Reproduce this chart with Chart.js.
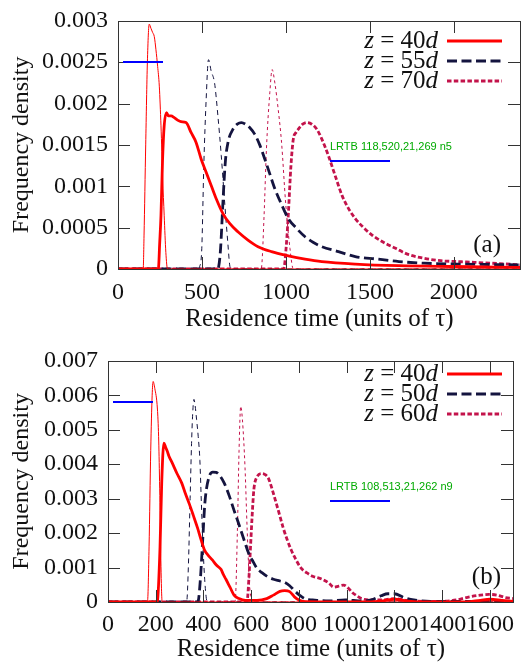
<!DOCTYPE html>
<html>
<head>
<meta charset="utf-8">
<script src="https://cdn.jsdelivr.net/npm/chart.js@4.4.1/dist/chart.umd.min.js"></script>
<style>
  html, body { margin: 0; padding: 0; background: #fff; overflow: hidden; }
  canvas { display: block; }
</style>
</head>
<body>
<canvas id="chartA" width="522" height="340"></canvas>
<canvas id="chartB" width="522" height="325"></canvas>
<script>
// --- panel (a): residence time [tau], frequency density ---
const xTicksA = [0, 500, 1000, 1500, 2000];
const yTicksA = [0, 0.0005, 0.001, 0.0015, 0.002, 0.0025, 0.003];

const aThin40 = [[0,0],[150,0],[155,0.0004],[165,0.0015],[175,0.0025],[186,0.00296],[196,0.00291],[206,0.00286],[216,0.00281],[226,0.00265],[236,0.00245],[246,0.00221],[256,0.00173],[266,0.0011],[275,0.00065],[285,0.0002],[295,0],[2400,0]];
const aThick40 = [[0,0],[236,0],[241,0.00001],[248,0.0003],[256,0.00065],[265,0.0013],[275,0.00173],[289,0.00189],[300,0.00185],[316,0.00185],[335,0.00183],[355,0.0018],[375,0.00178],[405,0.00177],[435,0.00165],[465,0.00153],[495,0.00133],[525,0.00117],[555,0.00101],[585,0.00085],[625,0.00067],[665,0.00055],[714,0.00045],[774,0.00035],[834,0.00027],[914,0.00021],[1014,0.00016],[1114,0.00012],[1214,0.00009],[1413,0.00006],[1673,0.00004],[2000,0.00003],[2400,0.00002]];
const aThin55 = [[0,0],[480,0],[485,0.00002],[499,0.00025],[511,0.00125],[525,0.00205],[539,0.00253],[555,0.00239],[575,0.00225],[595,0.00185],[615,0.00137],[635,0.00081],[655,0.00029],[665,0.00005],[675,0],[2400,0]];
const aThick55 = [[0,0],[594,0],[599,0.00002],[611,0.00025],[625,0.00081],[639,0.00129],[655,0.00153],[685,0.00169],[710,0.00175],[735,0.00177],[760,0.00175],[784,0.00171],[814,0.00163],[844,0.0015],[874,0.00133],[904,0.00115],[934,0.00097],[974,0.00078],[1014,0.00061],[1064,0.00049],[1114,0.00039],[1164,0.00032],[1214,0.00027],[1313,0.00021],[1413,0.00015],[1543,0.00012],[1673,0.00009],[1822,0.00007],[2022,0.00006],[2400,0.00005]];
const aThin70 = [[0,0],[850,0],[854,0.00001],[870,0.00065],[884,0.00145],[904,0.00213],[918,0.00241],[934,0.00225],[954,0.00193],[974,0.00153],[998,0.00081],[1024,0.00025],[1044,0],[2400,0]];
const aThick70 = [[0,0],[985,0],[990,0.00002],[1004,0.00033],[1014,0.00065],[1030,0.00125],[1044,0.00157],[1060,0.00165],[1074,0.00169],[1100,0.00175],[1124,0.00177],[1154,0.00175],[1184,0.00169],[1214,0.00157],[1253,0.00137],[1293,0.00113],[1334,0.00089],[1373,0.00073],[1413,0.00061],[1463,0.0005],[1513,0.00041],[1583,0.00032],[1653,0.00025],[1723,0.00018],[1823,0.00013],[1922,0.0001],[2022,0.00009],[2222,0.00007],[2400,0.00005]];

// --- panel (b) ---
const xTicksB = [0, 200, 400, 600, 800, 1000, 1200, 1400, 1600];
const yTicksB = [0, 0.001, 0.002, 0.003, 0.004, 0.005, 0.006, 0.007];

const bThin40 = [[0,0],[162,0],[166,0.00005],[172,0.0016],[179,0.0044],[185,0.006],[189,0.0064],[196,0.0062],[207,0.0056],[212,0.0048],[216,0.0035],[220,0.0018],[224,0.0004],[227,0],[1700,0]];
const bThick40 = [[0,0],[203,0],[207,0.00003],[218,0.0016],[225,0.00345],[234,0.00461],[241,0.0045],[248,0.00438],[255,0.00424],[268,0.00405],[289,0.00373],[309,0.00345],[323,0.00317],[341,0.00284],[357,0.00252],[375,0.00215],[391,0.00178],[405,0.0015],[419,0.00136],[437,0.00122],[453,0.00108],[474,0.00094],[483,0.0008],[494,0.00066],[511,0.00043],[528,0.0002],[549,0.0001],[576,0.00005],[624,0.00005],[665,0.0001],[693,0.0002],[720,0.00031],[740,0.00033],[761,0.0003],[781,0.00015],[802,0.00005],[830,0.00001],[1100,0],[1150,0.00003],[1200,0.00008],[1250,0.00003],[1300,0],[1500,0],[1560,0.00005],[1600,0.00008],[1650,0.00005],[1700,0.00002]];
const bThin50 = [[0,0],[326,0],[330,0.00003],[337,0.0011],[344,0.003],[350,0.0046],[355,0.0055],[360,0.00588],[365,0.0057],[371,0.0053],[378,0.0048],[385,0.0041],[391,0.0029],[398,0.0016],[405,0.00066],[412,0.0001],[416,0],[1700,0]];
const bThick50 = [[0,0],[374,0],[378,0.00003],[387,0.00066],[398,0.00196],[405,0.0028],[412,0.00326],[426,0.00368],[439,0.00377],[453,0.00376],[467,0.00368],[487,0.00345],[508,0.00308],[528,0.00266],[549,0.00224],[569,0.00182],[590,0.0014],[604,0.00122],[624,0.00098],[645,0.00085],[665,0.00075],[693,0.00066],[720,0.00061],[740,0.00057],[761,0.00047],[781,0.00033],[802,0.0002],[830,0.00008],[857,0.00006],[925,0.00003],[994,0.00006],[1062,0.00003],[1103,0.00006],[1144,0.00018],[1172,0.00024],[1199,0.00024],[1240,0.00013],[1281,0.00006],[1350,0.00002],[1700,0.00002]];
const bThin60 = [[0,0],[529,0],[533,0.00003],[542,0.00205],[549,0.0044],[556,0.00568],[563,0.0053],[574,0.0039],[583,0.0021],[593,0.0005],[602,0.00005],[606,0],[1700,0]];
const bThick60 = [[0,0],[579,0],[583,0.00003],[590,0.00066],[597,0.00159],[604,0.00252],[611,0.00326],[624,0.00363],[645,0.00373],[658,0.0037],[672,0.00359],[686,0.00331],[700,0.00298],[717,0.00257],[734,0.00215],[750,0.00182],[768,0.0015],[788,0.00122],[809,0.00098],[832,0.00085],[857,0.00075],[898,0.00066],[925,0.00055],[946,0.00043],[966,0.00046],[987,0.00049],[1007,0.0004],[1021,0.00029],[1042,0.00018],[1062,0.0001],[1103,0.00006],[1150,0.00006],[1200,0.0001],[1250,0.00005],[1320,0.00002],[1400,0.00002],[1460,0.00006],[1514,0.00015],[1560,0.0002],[1596,0.00022],[1630,0.0002],[1665,0.00013],[1700,0.0001]];

const RED = '#ff0000';
const NAVY = '#14143f';
const CRIMSON = '#c3134b';
const FONT = '"Liberation Serif", "Times New Roman", serif';
const TICK = 12;

function thin(points, color, dash) {
  return {
    data: points.map(p => ({ x: p[0], y: p[1] })),
    borderColor: color,
    borderWidth: 1,
    borderDash: dash,
    pointRadius: 0,
    fill: false,
    cubicInterpolationMode: 'monotone',
  };
}

function thick(label, points, color, dash) {
  return {
    label: label,
    inKey: true,
    data: points.map(p => ({ x: p[0], y: p[1] })),
    borderColor: color,
    borderWidth: 2.8,
    borderDash: dash,
    pointRadius: 0,
    fill: false,
    cubicInterpolationMode: 'monotone',
  };
}

// box round the plot with inward ticks on all four sides
function drawFrame(chart) {
  const ctx = chart.ctx;
  const x = chart.scales.x, y = chart.scales.y;
  const L = Math.round(x.left), R = Math.round(x.right) - 1;
  const T = Math.round(y.top), B = Math.round(y.bottom);
  ctx.save();
  ctx.fillStyle = '#333333';
  ctx.fillRect(L, T, R - L + 1, 1);
  ctx.fillRect(L, B, R - L + 1, 1);
  ctx.fillRect(L, T, 1, B - T + 1);
  ctx.fillRect(R, T, 1, B - T + 1);
  x.ticks.forEach(t => {
    const px = Math.round(x.getPixelForValue(t.value));
    ctx.fillRect(px, T, 1, TICK);
    ctx.fillRect(px, B - TICK, 1, TICK);
  });
  y.ticks.forEach(t => {
    const py = Math.round(y.getPixelForValue(t.value));
    ctx.fillRect(L, py, TICK, 1);
    ctx.fillRect(R - TICK, py, TICK, 1);
  });
  ctx.restore();
  return [L, R, T, B];
}

// key in the upper right: "z = 40d" with italic z and d, then a line sample
function drawKey(chart, o) {
  const { ctx } = chart;
  const ital = `italic ${o.size}px ${FONT}`;
  const rom = `${o.size}px ${FONT}`;
  ctx.save();
  ctx.textBaseline = 'middle';
  ctx.textAlign = 'left';
  chart.data.datasets.filter(d => d.inKey).forEach((ds, i) => {
    const yy = o.top + i * o.step;
    const parts = [[ds.label.slice(0, 1), ital], [ds.label.slice(1, -1), rom], [ds.label.slice(-1), ital]];
    let w = 0;
    parts.forEach(p => { ctx.font = p[1]; w += ctx.measureText(p[0]).width; });
    let xx = o.textRight - w;
    ctx.fillStyle = '#111';
    parts.forEach(p => {
      ctx.font = p[1];
      ctx.fillText(p[0], xx, yy);
      xx += ctx.measureText(p[0]).width;
    });
    ctx.beginPath();
    ctx.strokeStyle = ds.borderColor;
    ctx.lineWidth = ds.borderWidth;
    ctx.setLineDash(ds.borderDash);
    ctx.moveTo(o.lineFrom, yy);
    ctx.lineTo(o.lineTo, yy);
    ctx.stroke();
  });
  ctx.setLineDash([]);
  ctx.font = rom;
  ctx.textAlign = 'right';
  ctx.fillStyle = '#111';
  ctx.fillText(o.tag, o.tagX, o.tagY);
  ctx.restore();
}

const decorations = {
  id: 'decorations',
  afterDraw(chart) {
    const box = drawFrame(chart);
    drawKey(chart, chart.config.options.keyBox);
    // temporary check of the frame position
    const ctx = chart.ctx;
    ctx.save();
    ctx.fillStyle = '#0a0';
    ctx.font = '11px sans-serif';
    ctx.fillText('LRTB ' + box.join(',') + ' n' + chart.scales.x.ticks.length, 330, 150);
    ctx.fillStyle = '#00f';
    ctx.fillRect(330, 160, 60, 2);
    ctx.fillRect(box[0] + 5, box[2] + 40, 40, 2);
    ctx.restore();
  }
};

function makePanel(canvasId, p) {
  const ctx = document.getElementById(canvasId).getContext('2d');
  return new Chart(ctx, {
    type: 'line',
    data: { datasets: p.datasets },
    plugins: [decorations],
    options: {
      responsive: false,
      animation: false,
      events: [],
      keyBox: p.key,
      layout: { padding: { top: p.top, right: 1, bottom: 0, left: 0 } },
      plugins: {
        legend: { display: false },
        tooltip: { enabled: false },
      },
      scales: {
        x: {
          type: 'linear',
          min: 0,
          max: p.xMax,
          afterBuildTicks: s => { s.ticks = p.xTicks.map(v => ({ value: v })); },
          afterFit: s => { s.height = p.xHeight; },
          grid: { display: false, drawTicks: false },
          border: { display: false },
          ticks: { autoSkip: false, maxRotation: 0, padding: p.xPad, color: '#111', font: { family: FONT, size: 24 }, callback: v => String(v) },
          title: {
            display: true,
            text: 'Residence time (units of τ)',
            color: '#111',
            font: { family: FONT, size: 25, lineHeight: 1 },
            padding: { top: 0, bottom: p.titlePad },
          },
        },
        y: {
          min: 0,
          max: p.yMax,
          afterBuildTicks: s => { s.ticks = p.yTicks.map(v => ({ value: v })); },
          afterFit: s => { s.width = p.yWidth; },
          grid: { display: false, drawTicks: false },
          border: { display: false },
          ticks: { padding: 10, color: '#111', font: { family: FONT, size: 24, lineHeight: 0.9 }, callback: v => String(v) },
          title: {
            display: true,
            text: 'Frequency density',
            color: '#111',
            font: { family: FONT, size: 24, lineHeight: 1 },
            padding: { top: 10, bottom: 0 },
          },
        },
      },
    },
  });
}

makePanel('chartA', {
  datasets: [
    thin(aThin40, RED, []),
    thick('z = 40d', aThick40, RED, []),
    thin(aThin55, NAVY, [5, 4]),
    thick('z = 55d', aThick55, NAVY, [10, 4.5]),
    thin(aThin70, CRIMSON, [3, 3]),
    thick('z = 70d', aThick70, CRIMSON, [4.5, 2.3]),
  ],
  xTicks: xTicksA, yTicks: yTicksA, xMax: 2400, yMax: 0.003,
  top: 19, yWidth: 118, xHeight: 71, xPad: 9, titlePad: 8,
  key: { size: 25, top: 41, step: 20, textRight: 438, lineFrom: 447, lineTo: 502, tag: '(a)', tagX: 501, tagY: 245 },
});

makePanel('chartB', {
  datasets: [
    thin(bThin40, RED, []),
    thick('z = 40d', bThick40, RED, []),
    thin(bThin50, NAVY, [5, 4]),
    thick('z = 50d', bThick50, NAVY, [10, 4.5]),
    thin(bThin60, CRIMSON, [3, 3]),
    thick('z = 60d', bThick60, CRIMSON, [4.5, 2.3]),
  ],
  xTicks: xTicksB, yTicks: yTicksB, xMax: 1700, yMax: 0.007,
  top: 11, yWidth: 108, xHeight: 63, xPad: 8, titlePad: 3,
  key: { size: 25, top: 34, step: 20, textRight: 438, lineFrom: 447, lineTo: 502, tag: '(b)', tagX: 501, tagY: 237 },
});
</script>
</body>
</html>
